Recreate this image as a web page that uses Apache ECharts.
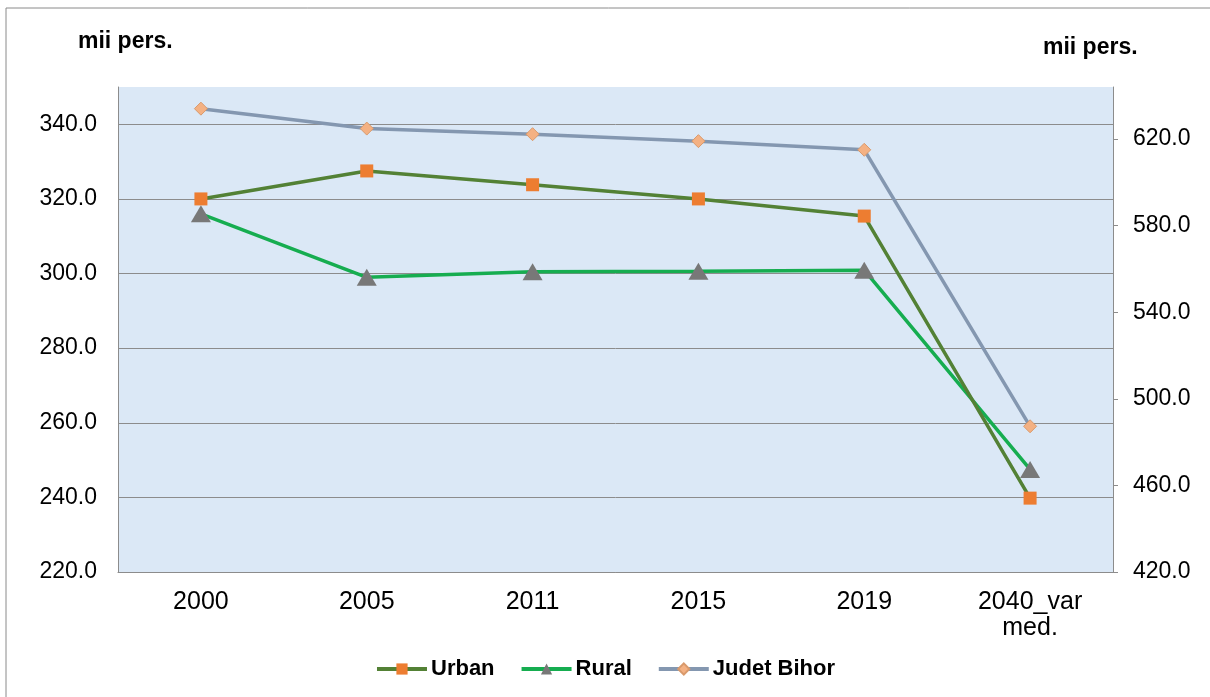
<!DOCTYPE html>
<html>
<head>
<meta charset="utf-8">
<script src="https://cdn.jsdelivr.net/npm/echarts@6/dist/echarts.min.js"></script>
<style>
  html, body { margin: 0; padding: 0; background: #fff; }
  #chart { width: 1210px; height: 697px; }
</style>
</head>
<body>
<div id="chart"></div>
<script>
// categories + values
const years = ['2000', '2005', '2011', '2015', '2019', '2040_var\nmed.'];
const urban = [320.0, 327.5, 323.8, 320.0, 315.4, 239.8];
const rural = [316.0, 299.0, 300.5, 300.6, 300.9, 247.5];
const bihor = [634.0, 624.8, 622.2, 619.0, 615.0, 487.3];

const leftTicks = { min: 220, max: 350, step: 20 };
const rightTicks = { min: 420, max: 644, step: 40 };

const font = 'Liberation Sans, Arial, sans-serif';

const chart = echarts.init(document.getElementById('chart'));

chart.setOption({
  animation: false,
  graphic: [
    // chart frame (only top/left edge visible in the picture)
    { type: 'rect', shape: { x: 6, y: 8, width: 1260, height: 760 },
      style: { fill: 'none', stroke: '#8a8a8a', lineWidth: 1 } },
    { type: 'text', x: 78, y: 42,
      style: { text: 'mii pers.', font: 'bold 23px ' + font, fill: '#000', verticalAlign: 'middle' } },
    { type: 'text', x: 1043, y: 48,
      style: { text: 'mii pers.', font: 'bold 23px ' + font, fill: '#000', verticalAlign: 'middle' } }
  ],
  grid: {
    left: 118, right: 97, top: 87, bottom: 125,
    show: true, backgroundColor: '#dbe8f6', borderWidth: 0
  },
  legend: {
    bottom: 12, left: 'center',
    itemWidth: 50, itemHeight: 14, itemGap: 25,
    lineStyle: { width: 4 },
    textStyle: { fontFamily: font, fontSize: 22, fontWeight: 'bold', color: '#000', padding: [0, 0, 0, -1] },
    data: ['Urban', 'Rural', 'Judet Bihor']
  },
  xAxis: {
    type: 'category',
    data: years,
    boundaryGap: true,
    axisLine: { lineStyle: { color: '#8c8c8c', width: 1 } },
    axisTick: { show: false },
    axisLabel: { fontFamily: font, fontSize: 25, color: '#000', margin: 17, lineHeight: 26, interval: 0 }
  },
  yAxis: [
    {
      type: 'value',
      min: leftTicks.min, max: leftTicks.max, interval: leftTicks.step,
      position: 'left',
      axisLine: { show: true, lineStyle: { color: '#8c8c8c' } },
      axisTick: { show: false },
      axisLabel: {
        fontFamily: font, fontSize: 23, color: '#000', margin: 21,
        showMaxLabel: false,
        formatter: v => v.toFixed(1)
      },
      splitLine: { show: true, showMaxLine: false, lineStyle: { color: '#8c8c8c', width: 1 } }
    },
    {
      type: 'value',
      min: rightTicks.min, max: rightTicks.max, interval: rightTicks.step,
      position: 'right',
      axisLine: { show: true, lineStyle: { color: '#8c8c8c' } },
      axisTick: { show: true, inside: false, length: 5, lineStyle: { color: '#8c8c8c' } },
      axisLabel: {
        fontFamily: font, fontSize: 23, color: '#000', margin: 20,
        showMaxLabel: false,
        formatter: v => v.toFixed(1)
      },
      splitLine: { show: false }
    }
  ],
  series: [
    {
      name: 'Urban', type: 'line', yAxisIndex: 0, data: urban,
      symbol: 'rect', symbolSize: 13,
      lineStyle: { color: '#538135', width: 3.5 },
      itemStyle: { color: '#ed7d31', borderWidth: 0 },
      z: 3
    },
    {
      name: 'Rural', type: 'line', yAxisIndex: 0, data: rural,
      symbol: 'triangle', symbolSize: [20, 17],
      lineStyle: { color: '#16ad50', width: 3.5 },
      itemStyle: { color: '#787878', borderWidth: 0 },
      z: 2
    },
    {
      name: 'Judet Bihor', type: 'line', yAxisIndex: 1, data: bihor,
      symbol: 'diamond', symbolSize: 13,
      lineStyle: { color: '#8497b0', width: 3.5 },
      itemStyle: { color: '#f4b183', borderColor: '#d99a6c', borderWidth: 1 },
      z: 2
    }
  ]
});
</script>
</body>
</html>
